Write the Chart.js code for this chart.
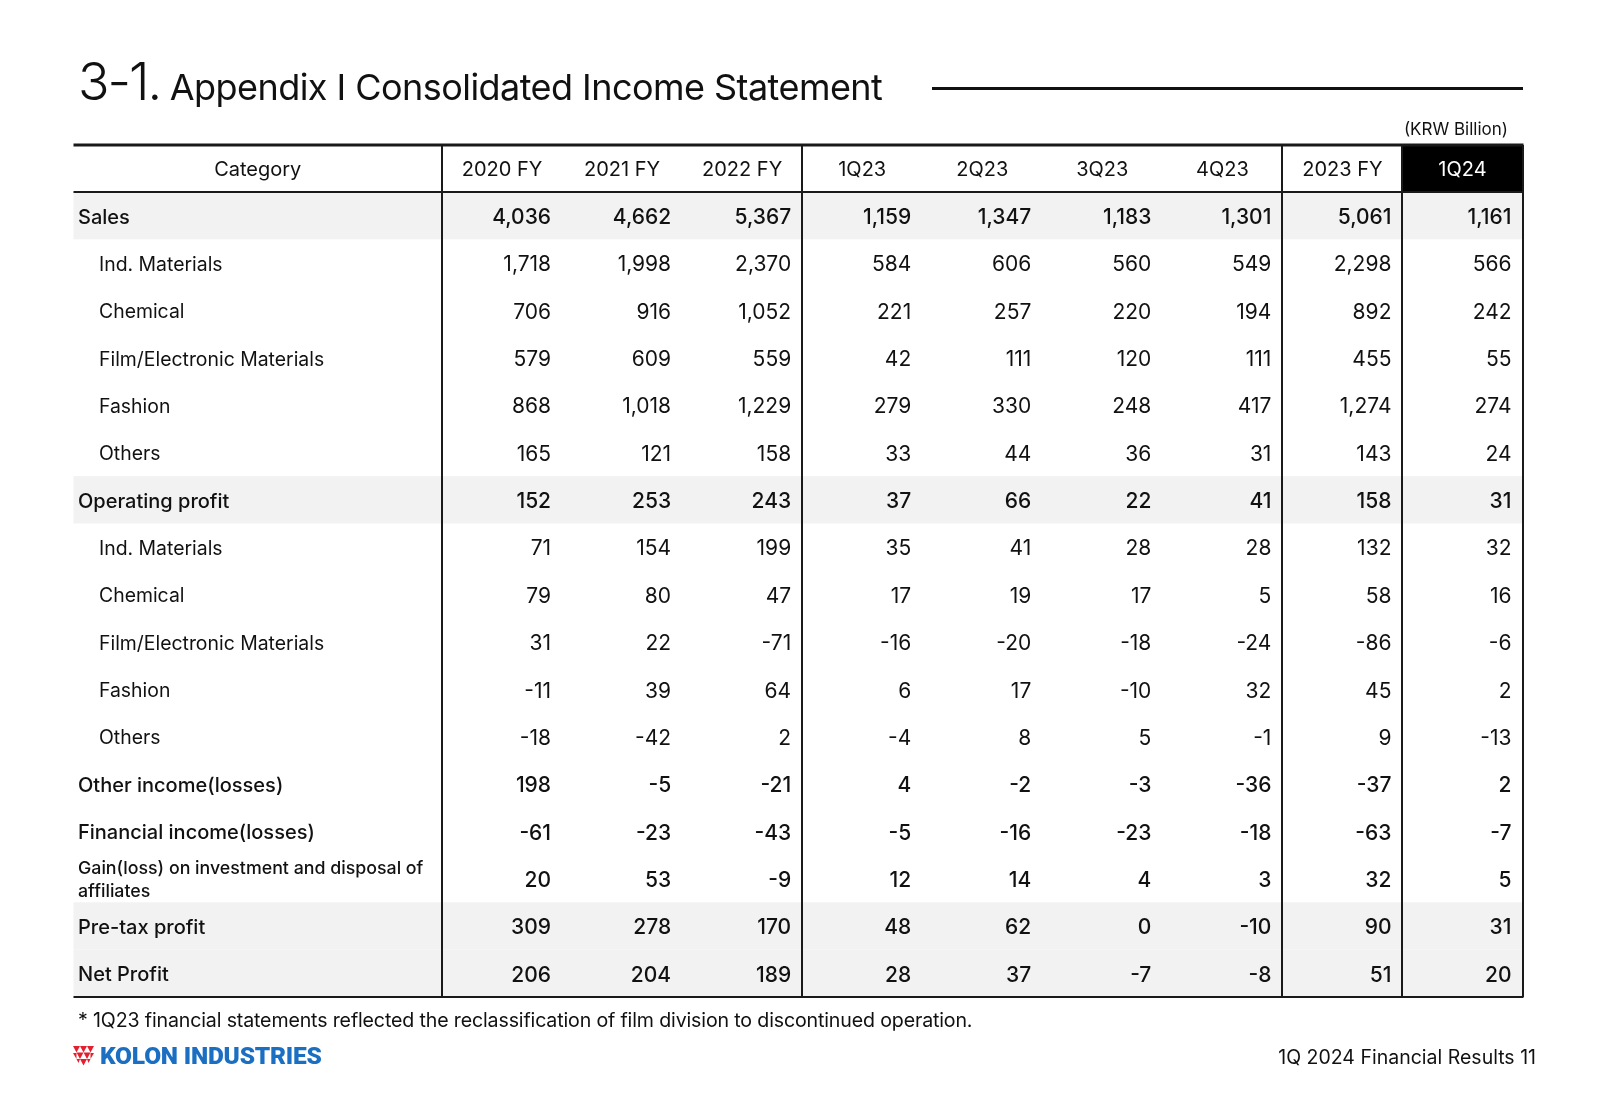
<!DOCTYPE html>
<html>
<head>
<meta charset="utf-8">
<script src="https://cdn.jsdelivr.net/npm/chart.js@4.4.1/dist/chart.umd.min.js"></script>
<style>
  body { margin: 0; background: #fff; font-family: Inter, "Noto Sans", sans-serif; color: #111; }
  #wrap { position: relative; width: 1600px; height: 1108px; overflow: hidden; }
  #tbl { position: absolute; left: 0; top: 0; }
  .title { position: absolute; left: 78px; top: 50px; white-space: nowrap; letter-spacing: -0.6px; }
  .title .num { font-size: 52px; font-weight: 300; letter-spacing: -2px; }
  .title .txt { font-size: 36px; letter-spacing: -0.55px; }
  .rule { position: absolute; left: 932px; top: 87px; width: 591px; height: 3px; background: #111; }
  .unit { position: absolute; right: 92px; top: 119px; font-size: 17px; }
  .note { position: absolute; left: 78px; top: 1008px; font-size: 19.6px; letter-spacing: -0.15px; }
  .page { position: absolute; right: 64px; top: 1045px; font-size: 19.5px; }
  .logo { position: absolute; left: 73px; top: 1041px; display: flex; align-items: center; }
  .logo span { font-family: Roboto, sans-serif; font-weight: 900; font-size: 24.5px; color: #1b6fc2; margin-left: 6px; letter-spacing: -0.2px; }
</style>
</head>
<body>
<div id="wrap">
  <canvas id="tbl" width="1600" height="1108"></canvas>
  <div class="title"><span class="num">3-1.</span><span class="txt"> Appendix I Consolidated Income Statement</span></div>
  <div class="rule"></div>
  <div class="unit">(KRW Billion)</div>
  <div class="note">* 1Q23 financial statements reflected the reclassification of film division to discontinued operation.</div>
  <div class="logo">
    <svg width="21" height="21" viewBox="0 0 21 21">
      <polygon points="0,1 7,1 3.5,7.5" fill="#e5202e"/>
      <polygon points="7,1 14,1 10.5,7.5" fill="#e5202e"/>
      <polygon points="14,1 21,1 17.5,7.5" fill="#e5202e"/>
      <polygon points="3.5,7.5 10.5,7.5 7,14" fill="#e5202e"/>
      <polygon points="10.5,7.5 17.5,7.5 14,14" fill="#e5202e"/>
      <polygon points="0,8 3.5,8 3.5,14" fill="#e5202e"/>
      <polygon points="21,8 17.5,8 17.5,14" fill="#e5202e"/>
      <polygon points="7,14 14,14 10.5,20.5" fill="#e5202e"/>
      <polygon points="3.5,14 7,14 5.5,18" fill="#e5202e"/>
      <polygon points="14,14 17.5,14 15.5,18" fill="#e5202e"/>
    </svg>
    <span>KOLON INDUSTRIES</span>
  </div>
  <div class="page">1Q 2024 Financial Results 11</div>
</div>
<script>
const periods = ['2020 FY', '2021 FY', '2022 FY', '1Q23', '2Q23', '3Q23', '4Q23', '2023 FY', '1Q24'];
const rowLabels = ['Sales', 'Ind. Materials', 'Chemical', 'Film/Electronic Materials', 'Fashion', 'Others',
  'Operating profit', 'Ind. Materials', 'Chemical', 'Film/Electronic Materials', 'Fashion', 'Others',
  'Other income(losses)', 'Financial income(losses)',
  ['Gain(loss) on investment and disposal of', 'affiliates'], 'Pre-tax profit', 'Net Profit'];
// 0 = main row, 1 = sub item
const rowLevel = [0, 1, 1, 1, 1, 1, 0, 1, 1, 1, 1, 1, 0, 0, 0, 0, 0];
const shadedRows = [0, 6, 15, 16];

const fy2020 = [4036, 1718, 706, 579, 868, 165, 152, 71, 79, 31, -11, -18, 198, -61, 20, 309, 206];
const fy2021 = [4662, 1998, 916, 609, 1018, 121, 253, 154, 80, 22, 39, -42, -5, -23, 53, 278, 204];
const fy2022 = [5367, 2370, 1052, 559, 1229, 158, 243, 199, 47, -71, 64, 2, -21, -43, -9, 170, 189];
const q1_23 = [1159, 584, 221, 42, 279, 33, 37, 35, 17, -16, 6, -4, 4, -5, 12, 48, 28];
const q2_23 = [1347, 606, 257, 111, 330, 44, 66, 41, 19, -20, 17, 8, -2, -16, 14, 62, 37];
const q3_23 = [1183, 560, 220, 120, 248, 36, 22, 28, 17, -18, -10, 5, -3, -23, 4, 0, -7];
const q4_23 = [1301, 549, 194, 111, 417, 31, 41, 28, 5, -24, 32, -1, -36, -18, 3, -10, -8];
const fy2023 = [5061, 2298, 892, 455, 1274, 143, 158, 132, 58, -86, 45, 9, -37, -63, 32, 90, 51];
const q1_24 = [1161, 566, 242, 55, 274, 24, 31, 32, 16, -6, 2, -13, 2, -7, 5, 31, 20];

const columns = [fy2020, fy2021, fy2022, q1_23, q2_23, q3_23, q4_23, fy2023, q1_24];
// vertical rules after these column indexes (-1 = left of first data column)
const dividers = [-1, 2, 6, 7, 8];

// the y scale needs unique names, the two segment blocks repeat
const rowKeys = rowLabels.map((l, i) => i + ' ' + (Array.isArray(l) ? l.join(' ') : l));

const FONT = 'Inter, "Noto Sans", sans-serif';
const TABLE_LEFT = 73.5;
const TABLE_TOP = 145;

const tablePlugin = {
  id: 'tablePlugin',
  beforeDatasetsDraw(chart) {
    const ctx = chart.ctx;
    const area = chart.chartArea;
    const y = chart.scales.y;
    const rowH = area.height / rowLabels.length;
    ctx.save();
    ctx.fillStyle = '#f2f2f2';
    shadedRows.forEach(r => {
      const cy = y.getPixelForValue(r);
      ctx.fillRect(TABLE_LEFT, cy - rowH / 2, area.right - TABLE_LEFT, rowH);
    });
    ctx.restore();
  },
  afterDatasetsDraw(chart) {
    const ctx = chart.ctx;
    const area = chart.chartArea;
    const x = chart.scales.x;
    const y = chart.scales.y;
    const colW = area.width / periods.length;
    ctx.save();

    // values, placed on the points the library laid out
    ctx.textAlign = 'right';
    ctx.textBaseline = 'middle';
    ctx.fillStyle = '#111';
    chart.data.datasets.forEach((ds, di) => {
      const meta = chart.getDatasetMeta(di);
      meta.data.forEach((pt, r) => {
        ctx.font = (rowLevel[r] === 0 ? '500 ' : '400 ') + '21px ' + FONT;
        ctx.fillText(ds.data[r].v.toLocaleString('en-US'), pt.x + colW / 2 - 11, pt.y + 2);
      });
    });

    // row labels
    ctx.textAlign = 'left';
    rowLabels.forEach((lab, r) => {
      const cy = y.getPixelForValue(r);
      if (Array.isArray(lab)) {
        ctx.font = '500 17.8px ' + FONT;
        ctx.fillText(lab[0], 78, cy - 10);
        ctx.fillText(lab[1], 78, cy + 13);
      } else if (rowLevel[r] === 0) {
        ctx.font = '500 20px ' + FONT;
        ctx.fillText(lab, 78, cy + 2);
      } else {
        ctx.font = '400 19.4px ' + FONT;
        ctx.fillText(lab, 99, cy + 2);
      }
    });

    // header row
    const hy = (TABLE_TOP + area.top) / 2;
    ctx.fillStyle = '#000';
    ctx.fillRect(x.getPixelForValue(8) - colW / 2, TABLE_TOP, colW, area.top - TABLE_TOP);
    ctx.textAlign = 'center';
    ctx.font = '400 20px ' + FONT;
    ctx.fillStyle = '#111';
    ctx.fillText('Category', (TABLE_LEFT + area.left) / 2, hy + 1);
    periods.forEach((p, i) => {
      ctx.fillStyle = i === 8 ? '#fff' : '#111';
      ctx.fillText(p, x.getPixelForValue(i), hy + 1);
    });

    // rules
    ctx.strokeStyle = '#1a1a1a';
    ctx.lineWidth = 2;
    dividers.forEach(c => {
      const px = Math.round(x.getPixelForValue(c + 1) - colW / 2);
      ctx.beginPath();
      ctx.moveTo(px, TABLE_TOP);
      ctx.lineTo(px, area.bottom);
      ctx.stroke();
    });
    ctx.lineWidth = 3;
    ctx.beginPath();
    ctx.moveTo(TABLE_LEFT, TABLE_TOP);
    ctx.lineTo(area.right + 1, TABLE_TOP);
    ctx.stroke();
    ctx.lineWidth = 2;
    [area.top, area.bottom].forEach(py => {
      ctx.beginPath();
      ctx.moveTo(TABLE_LEFT, py);
      ctx.lineTo(area.right + 1, py);
      ctx.stroke();
    });
    ctx.restore();
  }
};

const datasets = columns.map((col, c) => ({
  label: periods[c],
  data: col.map((v, r) => ({ x: periods[c], y: rowKeys[r], v: v })),
  pointRadius: 0,
  pointHoverRadius: 0
}));

new Chart(document.getElementById('tbl'), {
  type: 'scatter',
  data: { datasets: datasets },
  options: {
    responsive: false,
    animation: false,
    layout: { padding: { left: 442, right: 77.5, top: 192, bottom: 111 } },
    plugins: { legend: { display: false }, tooltip: { enabled: false } },
    scales: {
      x: { type: 'category', labels: periods, offset: true, display: false },
      y: { type: 'category', labels: rowKeys, offset: true, display: false }
    }
  },
  plugins: [tablePlugin]
});
</script>
</body>
</html>
